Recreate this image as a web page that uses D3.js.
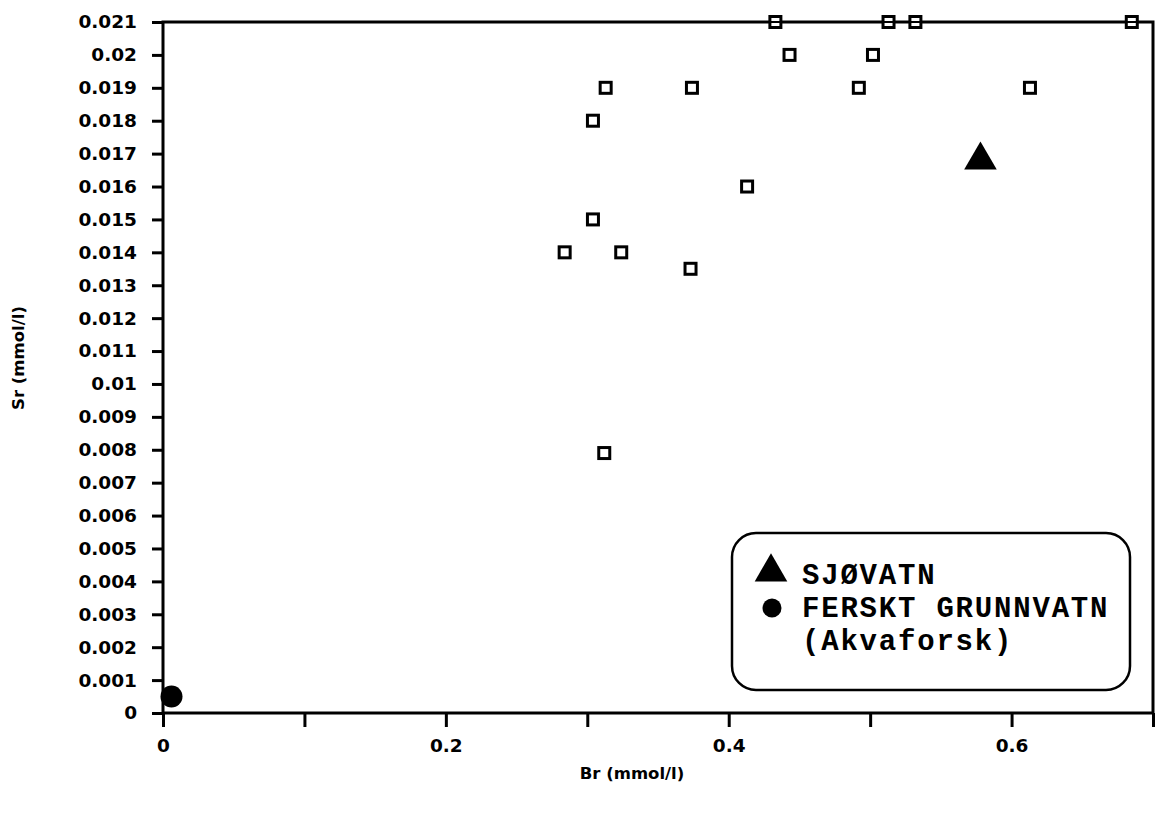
<!DOCTYPE html>
<html>
<head>
<meta charset="utf-8">
<script src="https://cdn.jsdelivr.net/npm/d3@7"></script>
<style>
  html, body { margin: 0; padding: 0; background: #fff; }
  svg { display: block; }
</style>
</head>
<body>
<svg id="chart" width="1158" height="814"></svg>
<script>
// Br vs Sr measurements (mmol/l)
const brSamples = [0.433, 0.513, 0.532, 0.685, 0.443, 0.502, 0.313, 0.374, 0.492, 0.613,
                   0.304, 0.413, 0.304, 0.284, 0.324, 0.373, 0.312];
const srSamples = [0.021, 0.021, 0.021, 0.021, 0.020, 0.020, 0.019, 0.019, 0.019, 0.019,
                   0.018, 0.016, 0.015, 0.014, 0.014, 0.0135, 0.0079];

// Reference waters
const seaWater = { name: "SJØVATN", br: 0.578, sr: 0.0168 };
const freshGroundWater = { name: "FERSKT GRUNNVATN", note: "(Akvaforsk)", br: 0.006, sr: 0.0005 };

// Axis ticks
const xTickValues = [0, 0.1, 0.2, 0.3, 0.4, 0.5, 0.6, 0.7];
const xTickLabels = ["0", "", "0.2", "", "0.4", "", "0.6", ""];
const yTickValues = [0, 0.001, 0.002, 0.003, 0.004, 0.005, 0.006, 0.007, 0.008, 0.009, 0.010,
                     0.011, 0.012, 0.013, 0.014, 0.015, 0.016, 0.017, 0.018, 0.019, 0.020, 0.021];
const yTickLabels = ["0", "0.001", "0.002", "0.003", "0.004", "0.005", "0.006", "0.007", "0.008",
                     "0.009", "0.01", "0.011", "0.012", "0.013", "0.014", "0.015", "0.016", "0.017",
                     "0.018", "0.019", "0.02", "0.021"];

const xTitle = "Br (mmol/l)";
const yTitle = "Sr (mmol/l)";

(function draw() {
  const svg = d3.select("#chart");
  const plotLeft = 163, plotRight = 1153, plotTop = 22, plotBottom = 713;

  const x = d3.scaleLinear().domain([0, 0.7]).range([plotLeft, plotRight]);
  const y = d3.scaleLinear().domain([0, 0.021]).range([plotBottom, plotTop]);

  const axisFont = "'DejaVu Sans', Verdana, sans-serif";

  // X axis
  const xAxis = svg.append("g")
    .attr("transform", `translate(0,${plotBottom})`)
    .call(d3.axisBottom(x)
      .tickValues(xTickValues)
      .tickFormat((d, i) => xTickLabels[i])
      .tickSize(14)
      .tickPadding(12));
  xAxis.select(".domain").remove();
  xAxis.selectAll(".tick line").attr("stroke", "#000").attr("stroke-width", 3);
  xAxis.selectAll(".tick text")
    .attr("font-family", axisFont).attr("font-weight", "bold").attr("font-size", 18.5)
    .attr("fill", "#000");

  // Y axis
  const yAxis = svg.append("g")
    .attr("transform", `translate(${plotLeft},0)`)
    .call(d3.axisLeft(y)
      .tickValues(yTickValues)
      .tickFormat((d, i) => yTickLabels[i])
      .tickSize(11)
      .tickPadding(15));
  yAxis.select(".domain").remove();
  yAxis.selectAll(".tick line").attr("stroke", "#000").attr("stroke-width", 3);
  yAxis.selectAll(".tick text")
    .attr("font-family", axisFont).attr("font-weight", "bold").attr("font-size", 18.5)
    .attr("fill", "#000");

  // Plot frame
  svg.append("rect")
    .attr("x", plotLeft).attr("y", plotTop)
    .attr("width", plotRight - plotLeft).attr("height", plotBottom - plotTop)
    .attr("fill", "none").attr("stroke", "#000").attr("stroke-width", 3);

  // Axis titles
  svg.append("text")
    .attr("x", 632).attr("y", 779)
    .attr("text-anchor", "middle")
    .attr("font-family", axisFont).attr("font-weight", "bold").attr("font-size", 16.5)
    .text(xTitle);

  svg.append("text")
    .attr("transform", "translate(24,358) rotate(-90)")
    .attr("text-anchor", "middle")
    .attr("font-family", axisFont).attr("font-weight", "bold").attr("font-size", 16.5)
    .text(yTitle);

  // Sample points: open squares
  const samples = brSamples.map((b, i) => ({ br: b, sr: srSamples[i] }));
  const sq = 11;
  svg.append("g").selectAll("rect")
    .data(samples)
    .join("rect")
    .attr("x", d => x(d.br) - sq / 2)
    .attr("y", d => y(d.sr) - sq / 2)
    .attr("width", sq).attr("height", sq)
    .attr("fill", "#fff").attr("stroke", "#000").attr("stroke-width", 3);

  // Squares on the top edge keep the frame line running through them
  svg.append("g").selectAll("line")
    .data(samples.filter(d => d.sr === 0.021))
    .join("line")
    .attr("x1", d => x(d.br) - sq / 2).attr("x2", d => x(d.br) + sq / 2)
    .attr("y1", d => y(d.sr)).attr("y2", d => y(d.sr))
    .attr("stroke", "#000").attr("stroke-width", 2);

  // Sea water: filled triangle
  const tri = d3.symbol().type(d3.symbolTriangle).size(460);
  svg.append("path")
    .attr("d", tri())
    .attr("transform", `translate(${x(seaWater.br)},${y(seaWater.sr)})`)
    .attr("fill", "#000");

  // Fresh ground water: filled circle
  svg.append("circle")
    .attr("cx", x(freshGroundWater.br)).attr("cy", y(freshGroundWater.sr))
    .attr("r", 11).attr("fill", "#000");

  // Legend
  const legend = svg.append("g");
  legend.append("rect")
    .attr("x", 732).attr("y", 533).attr("width", 398).attr("height", 157)
    .attr("rx", 24).attr("ry", 24)
    .attr("fill", "#fff").attr("stroke", "#000").attr("stroke-width", 2.5);

  const monoFont = "'Nimbus Mono PS', 'Courier New', Courier, 'Liberation Mono', monospace";
  legend.append("path")
    .attr("d", tri())
    .attr("transform", "translate(771,572)")
    .attr("fill", "#000");
  legend.append("circle")
    .attr("cx", 772).attr("cy", 608).attr("r", 9.5).attr("fill", "#000");

  const legendLines = [seaWater.name, freshGroundWater.name, freshGroundWater.note];
  legend.selectAll("text.leg")
    .data(legendLines)
    .join("text")
    .attr("class", "leg")
    .attr("x", 802)
    .attr("y", (d, i) => 584 + i * 33)
    .attr("font-family", monoFont).attr("font-size", 29).attr("font-weight", "bold")
    .attr("letter-spacing", 1.8)
    .attr("fill", "#000")
    .text(d => d);
})();
</script>
</body>
</html>
